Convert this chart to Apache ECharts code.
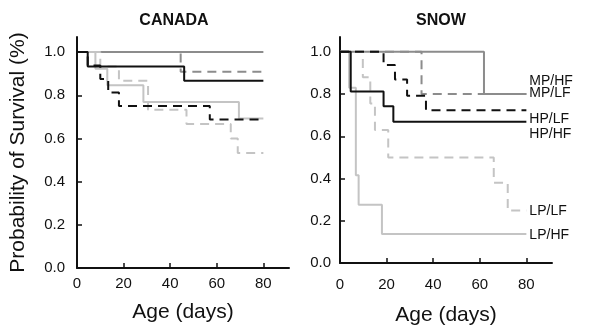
<!DOCTYPE html>
<html>
<head>
<meta charset="utf-8">
<script src="https://cdn.jsdelivr.net/npm/echarts@6/dist/echarts.min.js"></script>
<style>
  html, body { margin: 0; padding: 0; background: #fff; }
  #chart { width: 590px; height: 331px; }
</style>
</head>
<body>
<div id="chart"></div>
<script>
// Kaplan-Meier curves, [age in days, survival]
const canadaMPHF = [[0, 1], [80, 1]];
const canadaMPLF = [[0, 1], [44.5, 0.909], [80, 0.909]];
const canadaHPHF = [[0, 1], [4.6, 0.933], [46, 0.867], [80, 0.867]];
const canadaHPLF = [[0, 1], [4.6, 0.9375], [10, 0.875], [13.4, 0.8125], [18, 0.75], [57, 0.6875], [80, 0.6875]];
const canadaLPHF = [[0, 1], [7.9, 0.923], [13, 0.846], [28.5, 0.769], [69.5, 0.692], [80, 0.692]];
const canadaLPLF = [[0, 1], [10, 0.933], [18, 0.867], [30.5, 0.733], [47, 0.667], [66, 0.6], [69, 0.533], [80, 0.533]];

const snowMPHF = [[0, 1], [61.8, 0.8], [80, 0.8]];
const snowMPLF = [[0, 1], [35, 0.8], [80, 0.8]];
const snowHPLF = [[0, 1], [18.7, 0.938], [23.6, 0.869], [28.8, 0.792], [36.9, 0.723], [80, 0.723]];
const snowHPHF = [[0, 1], [4.6, 0.812], [18.7, 0.742], [22.9, 0.669], [80, 0.669]];
const snowLPLF = [[0, 1], [9.8, 0.88], [13, 0.755], [15, 0.63], [20.7, 0.5], [66, 0.38], [72, 0.248], [80, 0.248]];
const snowLPHF = [[0, 1], [3.9, 0.83], [6.8, 0.415], [8, 0.276], [18, 0.137], [80, 0.137]];

const panelTitles = ["CANADA", "SNOW"];
const xTicks = [0, 20, 40, 60, 80];
const yTicks = [0, 0.2, 0.4, 0.6, 0.8, 1.0];

const font = "Liberation Sans";
const darkGray = "#8c8c8c";
const lightGray = "#c4c4c4";
const black = "#111111";

const lineStyles = {
  MPHF: { color: darkGray, type: "solid" },
  MPLF: { color: darkGray, type: [9, 6] },
  HPHF: { color: black, type: "solid" },
  HPLF: { color: black, type: [9, 6] },
  LPHF: { color: lightGray, type: "solid" },
  LPLF: { color: lightGray, type: [9, 6] },
};

// label nudges for the right panel (px, relative to the line end)
const labelShift = { MPHF: -13, MPLF: -1, HPLF: 9, HPHF: 12, LPLF: 1, LPHF: 1 };

function stepSeries(key, data, idx, withLabel) {
  const s = lineStyles[key];
  return {
    type: "line",
    step: "end",
    xAxisIndex: idx,
    yAxisIndex: idx,
    showSymbol: false,
    data: data,
    lineStyle: { color: s.color, width: 2, type: s.type },
    itemStyle: { color: s.color },
    endLabel: withLabel
      ? {
          show: true,
          formatter: key.slice(0, 2) + "/" + key.slice(2),
          fontFamily: font,
          fontSize: 14,
          color: black,
          distance: 3,
          offset: [0, labelShift[key]],
        }
      : { show: false },
    z: s.color === black ? 3 : 2,
  };
}

function xAxisFor(idx, margin, gap) {
  return {
    gridIndex: idx,
    type: "value",
    min: 0,
    max: 91,
    name: "Age (days)",
    nameLocation: "middle",
    nameGap: gap,
    nameTextStyle: { fontFamily: font, fontSize: 21, color: black },
    axisLine: { lineStyle: { color: black, width: 2 } },
    axisTick: { inside: true, length: 5, customValues: xTicks, lineStyle: { color: black, width: 1.5 } },
    axisLabel: { customValues: xTicks, margin: margin, fontFamily: font, fontSize: 15, color: black },
    splitLine: { show: false },
  };
}

function yAxisFor(idx, withName) {
  return {
    gridIndex: idx,
    type: "value",
    min: 0,
    max: 1.07,
    name: withName ? "Probability of Survival (%)" : "",
    nameLocation: "middle",
    nameGap: 48,
    nameTextStyle: { fontFamily: font, fontSize: 21, color: black },
    axisLine: { show: true, lineStyle: { color: black, width: 2 } },
    axisTick: { show: true, inside: true, length: 5, customValues: yTicks, lineStyle: { color: black, width: 1.5 } },
    axisLabel: {
      customValues: yTicks,
      margin: withName ? 12 : 9,
      fontFamily: font,
      fontSize: 15,
      color: black,
      formatter: (v) => v.toFixed(1),
    },
    splitLine: { show: false },
  };
}

const chart = echarts.init(document.getElementById("chart"), null, { renderer: "canvas" });

chart.setOption({
  animation: false,
  backgroundColor: "#fff",
  title: [
    { text: panelTitles[0], left: 169, top: 8, textAlign: "center", textStyle: { fontFamily: font, fontSize: 16, fontWeight: "bold", color: black } },
    { text: panelTitles[1], left: 436, top: 8, textAlign: "center", textStyle: { fontFamily: font, fontSize: 16, fontWeight: "bold", color: black } },
  ],
  grid: [
    { left: 77, top: 37, width: 212, height: 231 },
    { left: 340, top: 37, width: 212, height: 231 },
  ],
  xAxis: [xAxisFor(0, 8, 34), xAxisFor(1, 14, 42)],
  yAxis: [yAxisFor(0, true), yAxisFor(1, false)],
  series: [
    stepSeries("MPHF", canadaMPHF, 0, false),
    stepSeries("MPLF", canadaMPLF, 0, false),
    stepSeries("LPHF", canadaLPHF, 0, false),
    stepSeries("LPLF", canadaLPLF, 0, false),
    stepSeries("HPHF", canadaHPHF, 0, false),
    stepSeries("HPLF", canadaHPLF, 0, false),
    stepSeries("MPHF", snowMPHF, 1, true),
    stepSeries("MPLF", snowMPLF, 1, true),
    stepSeries("LPHF", snowLPHF, 1, true),
    stepSeries("LPLF", snowLPLF, 1, true),
    stepSeries("HPHF", snowHPHF, 1, true),
    stepSeries("HPLF", snowHPLF, 1, true),
  ],
});
</script>
</body>
</html>
